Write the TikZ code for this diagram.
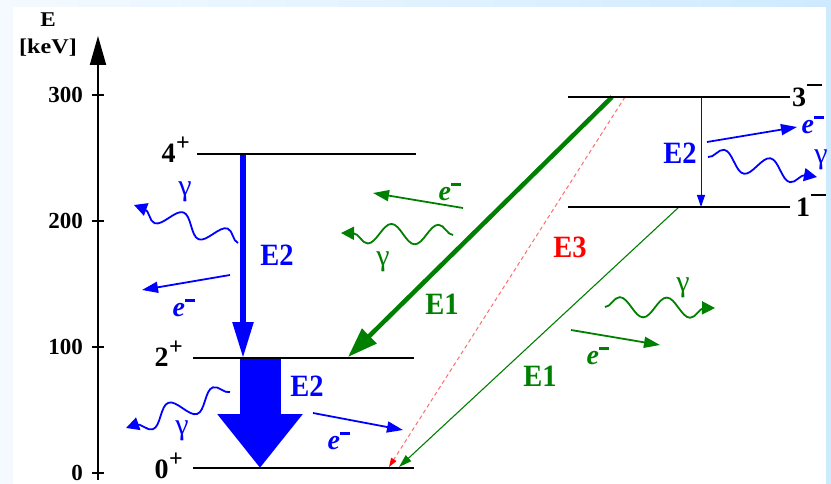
\documentclass[tikz,border=0pt]{standalone}
\usepackage{fontspec}
\setmainfont{Liberation Serif}
\newfontfamily\gfont{Liberation Serif}
\usetikzlibrary{arrows.meta,decorations.pathmorphing}
\definecolor{gr}{RGB}{0,128,0}
\definecolor{bl}{RGB}{0,0,255}
\definecolor{lred}{RGB}{255,110,110}
\definecolor{bgl}{RGB}{244,250,255}
\definecolor{bgr}{RGB}{206,234,255}
\newcommand\fs[1]{\fontsize{#1pt}{#1pt}\selectfont}
\newcommand\nx[2]{\scalebox{#1}[1]{#2}}
\newcommand\supplus{\kern0.5pt\raisebox{12pt}{\fs{24}\bfseries +}}
\newcommand\supminus{\kern1pt\rule[21pt]{15pt}{2pt}}
\newcommand\elec{\textbf{\textit{e}}\kern0.5pt\rule[15pt]{10pt}{2.4pt}}
\tikzset{
  lvl/.style={line width=2pt, black},
  lvllab/.style={font=\fs{28}\bfseries},
  trans/.style={font=\fs{31}\bfseries},
  ticklab/.style={font=\fs{23}\bfseries, anchor=east},
  axlab/.style={font=\fs{21}\bfseries},
  gam/.style={decorate, decoration={snake, amplitude=#1, segment length=47pt, post length=10pt},
              line width=1.8pt, -{Triangle[length=13pt,width=13pt]}},
  ele/.style={line width=1.8pt, -{Triangle[length=16pt,width=11pt]}},
  glab/.style={font=\gfont\fs{30}},
  elab/.style={font=\fs{28}}
}
\begin{document}
\begin{tikzpicture}[x=1pt, y=-1pt, every node/.style={inner sep=0pt}]
\useasboundingbox (0,0) rectangle (831,484);
\shade[left color=bgl, right color=bgr] (0,0) rectangle (831,484);
\fill[white] (13,7) rectangle (826,484);
\begin{scope}
\clip (13,7) rectangle (826,484);
% axis
\coordinate (axb) at (98,480);
\coordinate (axt) at (98,36);
\draw[line width=1.8pt, -{Triangle[length=29pt,width=16pt]}] (axb) -- (axt);
\node[axlab, anchor=base] (eax) at (48,27) {\nx{1.1}{E}};
\node[axlab, anchor=base] (kev) at (48,54) {\nx{1.15}{[keV]}};
\foreach \yy/\lab [count=\i] in {95/300,221/200,347/100,473/0}{
  \coordinate (tl\i) at (92,\yy);
  \coordinate (tr\i) at (104,\yy);
  \draw[lvl] (tl\i) -- (tr\i);
  \node[ticklab] (tk\i) at (83,\yy) {\lab};
}
% level coordinates
\coordinate (L4a) at (197,154); \coordinate (L4b) at (416,154);
\coordinate (L2a) at (193,358); \coordinate (L2b) at (414,358);
\coordinate (L0a) at (193,468); \coordinate (L0b) at (414,468);
\coordinate (L3a) at (568,97);  \coordinate (L3b) at (790,97);
\coordinate (L1a) at (568,207); \coordinate (L1b) at (790,207);
% transitions
\coordinate (a4) at (243,154); \coordinate (a2) at (243,358);
\draw[bl, line width=5.5pt, -{Triangle[length=36pt,width=20pt]}] (a4) -- (a2);
\coordinate (b2) at (260,358); \coordinate (b0) at (260,468);
\draw[bl, line width=41pt, -{Triangle[length=54pt,width=82pt]}] (b2) -- (b0);
\coordinate (g3) at (612,97); \coordinate (g2) at (348,357);
\draw[gr, line width=4.5pt, -{Triangle[length=30pt,width=20pt]}] (g3) -- (g2);
\coordinate (r3) at (625,97); \coordinate (r0) at (389,467);
\draw[lred, line width=1pt, dash pattern=on 4pt off 3pt, -{Triangle[length=9pt,width=6pt,color=red]}] (r3) -- (r0);
\coordinate (h1) at (679,207); \coordinate (h0) at (399,467);
\draw[gr, line width=1.1pt, -{Triangle[length=13pt,width=8pt]}] (h1) -- (h0);
\coordinate (c3) at (701,97); \coordinate (c1) at (701,207);
\draw[bl, line width=1pt, -{Triangle[length=12pt,width=8pt]}] (c3) -- (c1);
% transition labels
\node[trans, bl] (t1) at (277,255) {\nx{0.92}{E2}};
\node[trans, bl] (t2) at (307,386) {\nx{0.92}{E2}};
\node[trans, gr] (t3) at (442,304) {\nx{0.92}{E1}};
\node[trans, red] (t4) at (570,247) {\nx{0.92}{E3}};
\node[trans, gr] (t5) at (540,376) {\nx{0.92}{E1}};
\node[trans, bl] (t6) at (680,153) {\nx{0.92}{E2}};
% gamma emissions
\coordinate (gs1) at (238,243); \coordinate (ge1) at (134,205);
\draw[bl, gam=-10pt] (gs1) -- (ge1);
\coordinate (gs2) at (230,392); \coordinate (ge2) at (126,428);
\draw[bl, gam=-10pt] (gs2) -- (ge2);
\coordinate (gs3) at (453,235); \coordinate (ge3) at (341,233);
\draw[gr, gam=-10pt] (gs3) -- (ge3);
\coordinate (gs4) at (605,307); \coordinate (ge4) at (715,308);
\draw[gr, gam=10pt] (gs4) -- (ge4);
\coordinate (gs5) at (708,157); \coordinate (ge5) at (817,177);
\draw[bl, gam=10pt] (gs5) -- (ge5);
\node[glab, bl] (y1) at (185,192) {γ};
\node[glab, bl] (y2) at (182,431) {γ};
\node[glab, gr] (y3) at (383,262) {γ};
\node[glab, gr] (y4) at (683,288) {γ};
\node[glab, bl] (y5) at (821,160) {γ};
% electrons
\coordinate (es1) at (230,275); \coordinate (ee1) at (142,290);
\draw[bl, ele] (es1) -- (ee1);
\coordinate (es2) at (313,413); \coordinate (ee2) at (403,430);
\draw[bl, ele] (es2) -- (ee2);
\coordinate (es3) at (463,208); \coordinate (ee3) at (373,193);
\draw[gr, ele] (es3) -- (ee3);
\coordinate (es4) at (571,330); \coordinate (ee4) at (660,345);
\draw[gr, ele] (es4) -- (ee4);
\coordinate (es5) at (707,142); \coordinate (ee5) at (797,127);
\draw[bl, ele] (es5) -- (ee5);
\node[elab, bl] (x1) at (184,308) {\elec};
\node[elab, bl] (x2) at (339,441) {\elec};
\node[elab, gr] (x3) at (450,192) {\elec};
\node[elab, gr] (x4) at (598,356) {\elec};
\node[elab, bl] (x5) at (813,125) {\elec};
% levels
\draw[lvl] (L4a) -- (L4b);
\draw[lvl] (L2a) -- (L2b);
\draw[lvl] (L0a) -- (L0b);
\draw[lvl] (L3a) -- (L3b);
\draw[lvl] (L1a) -- (L1b);
\node[lvllab, anchor=base east] (n4) at (190,163) {4\supplus};
\node[lvllab, anchor=base east] (n2) at (183,366) {2\supplus};
\node[lvllab, anchor=base east] (n0) at (183,478) {0\supplus};
\node[lvllab, anchor=base west] (n3) at (792,107) {3\supminus};
\node[lvllab, anchor=base west] (n1) at (796,217) {1\supminus};
\end{scope}
\end{tikzpicture}
\end{document}
